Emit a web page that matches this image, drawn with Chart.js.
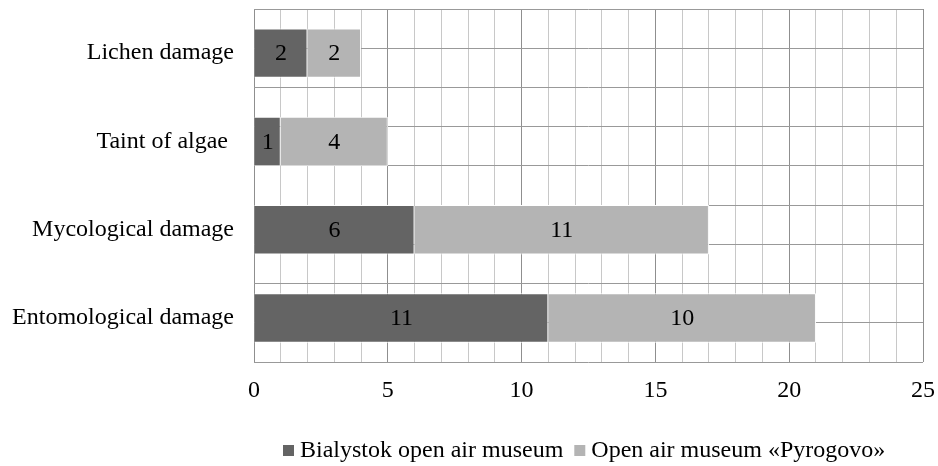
<!DOCTYPE html>
<html>
<head>
<meta charset="utf-8">
<script src="https://cdn.jsdelivr.net/npm/chart.js@4"></script>
<style>
  html, body { margin: 0; padding: 0; background: #fff; }
  #wrap { width: 938px; height: 466px; }
</style>
</head>
<body>
<div id="wrap"><canvas id="chart"></canvas></div>
<script>
const categories = ["Lichen damage", "Taint of algae ", "Mycological damage", "Entomological damage"];
const bialystokValues = [2, 1, 6, 11];
const pyrogovoValues = [2, 4, 11, 10];
const seriesNames = ["Bialystok open air museum", "Open air museum «Pyrogovo»"];
const xTicks = [0, 5, 10, 15, 20, 25];

const FONT = "'Liberation Serif', 'Times New Roman', serif";
const DARK = "#646464";
const LIGHT = "#b4b4b4";

// draws the value in the middle of each bar segment
const barLabels = {
  id: "barLabels",
  afterDatasetsDraw(chart) {
    const ctx = chart.ctx;
    ctx.save();
    ctx.font = "24px " + FONT;
    ctx.fillStyle = "#000";
    ctx.textAlign = "center";
    ctx.textBaseline = "middle";
    chart.data.datasets.forEach((ds, i) => {
      chart.getDatasetMeta(i).data.forEach((bar, j) => {
        const cx = (bar.x + bar.base) / 2;
        ctx.fillText(String(ds.data[j]), cx, bar.y + 1);
      });
    });
    ctx.restore();
  },
};

// excel-like legend: small square, tight gap, placed under the plot
const bottomLegend = {
  id: "bottomLegend",
  afterDraw(chart) {
    const ctx = chart.ctx;
    const area = chart.chartArea;
    ctx.save();
    ctx.font = "24px " + FONT;
    ctx.textBaseline = "middle";
    ctx.textAlign = "left";
    const y = chart.height - 16;
    let x = area.left + 29;
    chart.data.datasets.forEach((ds) => {
      ctx.fillStyle = ds.backgroundColor;
      ctx.fillRect(x, y - 5, 11, 11);
      x += 17;
      ctx.fillStyle = "#000";
      ctx.fillText(ds.label, x, y + 1);
      x += ctx.measureText(ds.label).width + 11;
    });
    ctx.restore();
  },
};

new Chart(document.getElementById("chart"), {
  type: "bar",
  data: {
    labels: categories,
    datasets: [
      { label: seriesNames[0], data: bialystokValues, backgroundColor: DARK,
        borderColor: "#fff", borderWidth: 1, yAxisID: "y",
        categoryPercentage: 1, barPercentage: 0.56 },
      { label: seriesNames[1], data: pyrogovoValues, backgroundColor: LIGHT,
        borderColor: "#fff", borderWidth: 1, yAxisID: "y",
        categoryPercentage: 1, barPercentage: 0.56 },
    ],
  },
  options: {
    indexAxis: "y",
    responsive: true,
    maintainAspectRatio: false,
    animation: false,
    layout: { padding: { left: 10, right: 15, top: 9, bottom: 47 } },
    plugins: {
      legend: { display: false },
      tooltip: { enabled: false },
    },
    scales: {
      x: {
        stacked: true,
        min: 0,
        max: 25,
        ticks: {
          stepSize: 1,
          autoSkip: false,
          maxRotation: 0,
          color: "#000",
          font: { family: FONT, size: 24 },
          padding: 14,
          callback: (v) => (xTicks.includes(v) ? String(v) : ""),
        },
        grid: {
          drawTicks: false,
          color: (c) => (c.tick && c.tick.value % 5 === 0 ? "#8f8f8f" : "#c8c8c8"),
          lineWidth: 1,
        },
        border: { display: false },
        afterFit: (s) => { s.paddingLeft = 0; s.paddingRight = 0; },
      },
      y: {
        stacked: true,
        ticks: {
          color: "#000",
          font: { family: FONT, size: 24 },
          padding: 20,
        },
        grid: { display: false, drawTicks: false },
        border: { display: false },
        afterFit: (s) => { s.width = 244; s.paddingTop = 0; s.paddingBottom = 0; },
      },
      y2: {
        type: "linear",
        position: "left",
        min: 0,
        max: 8,
        ticks: { display: false, stepSize: 1 },
        grid: { drawTicks: false, color: "#999" },
        border: { display: false },
        afterFit: (s) => { s.width = 0; s.paddingTop = 0; s.paddingBottom = 0; },
      },
    },
  },
  plugins: [barLabels, bottomLegend],
});
</script>
</body>
</html>
